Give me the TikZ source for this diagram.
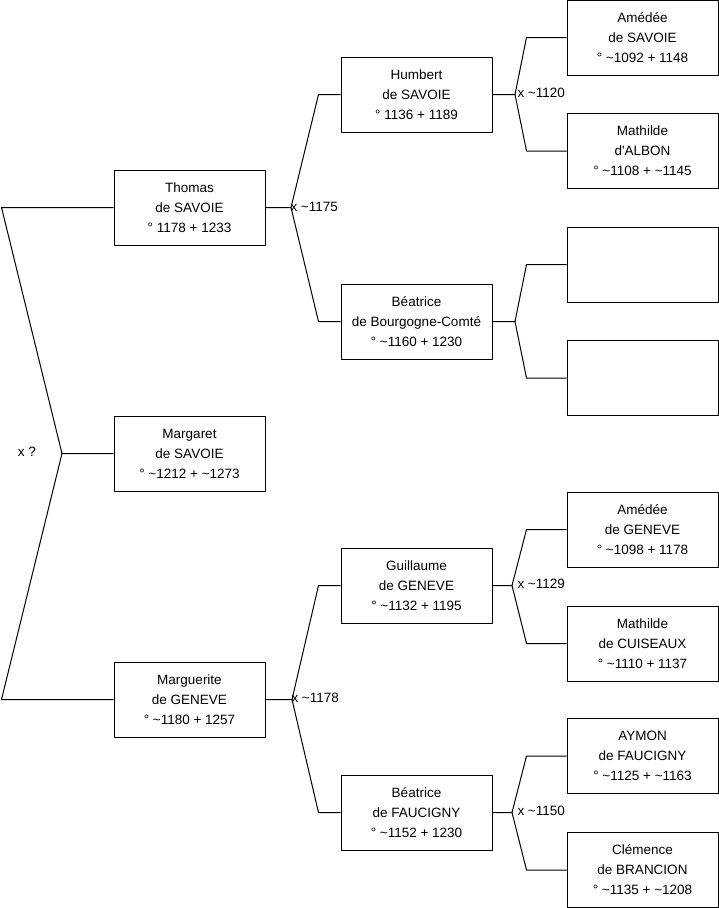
\documentclass[tikz,border=0pt]{standalone}
\usepackage{fontspec}
\setmainfont{Liberation Sans}
\usetikzlibrary{positioning}

\def\ca{\textasciitilde}

\begin{document}
\begin{tikzpicture}[x=1pt, y=-1pt, line width=1pt, line join=round,
    person/.style={draw, minimum width=151pt, minimum height=75pt, inner sep=0pt,
        align=center, font=\fontsize{13.5}{20}\selectfont},
    union/.style={anchor=west, inner sep=0pt, font=\fontsize{13.5}{16}\selectfont}]
% Ascending tree of Margaret de Savoie
\def\xa{189.5}
\def\xb{416.5}
\def\xc{642.5}
\useasboundingbox (0,0) rectangle (719,908);

% Generation 0 and 1
\node[person] (thomas)     at (\xa,207.5) {Thomas\\de SAVOIE\\° 1178 + 1233};
\node[person] (margaret)   at (\xa,453.5) {Margaret\\de SAVOIE\\° \ca1212 + \ca1273};
\node[person] (marguerite) at (\xa,699.5) {Marguerite\\de GENEVE\\° \ca1180 + 1257};

% Generation 2
\node[person] (humbert)   at (\xb,94.5)  {Humbert\\de SAVOIE\\° 1136 + 1189};
\node[person] (beatriceb) at (\xb,321.5) {Béatrice\\de Bourgogne-Comté\\° \ca1160 + 1230};
\node[person] (guillaume) at (\xb,585.5) {Guillaume\\de GENEVE\\° \ca1132 + 1195};
\node[person] (beatricef) at (\xb,812.5) {Béatrice\\de FAUCIGNY\\° \ca1152 + 1230};

% Generation 3
\node[person] (amedees)   at (\xc,37.5)  {Amédée\\de SAVOIE\\° \ca1092 + 1148};
\node[person] (mathildea) at (\xc,151)   {Mathilde\\d\textquotesingle ALBON\\° \ca1108 + \ca1145};
\node[person] (blanka)    at (\xc,264.5) {};
\node[person] (blankb)    at (\xc,378)   {};
\node[person] (amedeeg)   at (\xc,529.5) {Amédée\\de GENEVE\\° \ca1098 + 1178};
\node[person] (mathildec) at (\xc,643.5) {Mathilde\\de CUISEAUX\\° \ca1110 + 1137};
\node[person] (aymon)     at (\xc,756)   {AYMON\\de FAUCIGNY\\° \ca1125 + \ca1163};
\node[person] (clemence)  at (\xc,870)   {Clémence\\de BRANCION\\° \ca1135 + \ca1208};

% Unions
\coordinate (j0) at (62,453.5);
\coordinate (j1) at (291,207.5);
\coordinate (j2) at (292,699.5);
\coordinate (j3) at (515,94.5);
\coordinate (j4) at (515,321.5);
\coordinate (j5) at (512,585.5);
\coordinate (j6) at (512,812.5);

\draw (margaret.west) -- (j0) -- ([xshift=-112pt]thomas.west) -- (thomas.west);
\draw (j0) -- ([xshift=-112pt]marguerite.west) -- (marguerite.west);

\foreach \pa/\j/\ua/\ub/\k in {thomas/j1/humbert/beatriceb/22,
                               marguerite/j2/guillaume/beatricef/22,
                               humbert/j3/amedees/mathildea/40,
                               beatriceb/j4/blanka/blankb/40,
                               guillaume/j5/amedeeg/mathildec/40,
                               beatricef/j6/aymon/clemence/40} {
    \draw (\pa.east) -- (\j) -- ([xshift=-\k pt]\ua.west) -- (\ua.west);
    \draw (\j) -- ([xshift=-\k pt]\ub.west) -- (\ub.west);
}

% Marriage dates
\node[anchor=center, inner sep=0pt, font=\fontsize{13.5}{16}\selectfont] (u0) at (27,452) {x ?};
\node[union] (u1) at ([xshift=-1pt,yshift=1pt]j1) {x \ca1175};
\node[union] (u2) at ([xshift=-1pt,yshift=2pt]j2) {x \ca1178};
\node[union] (u3) at ([xshift=2pt,yshift=2pt]j3) {x \ca1120};
\node[union] (u5) at ([xshift=5pt,yshift=2pt]j5) {x \ca1129};
\node[union] (u6) at ([xshift=5pt,yshift=2pt]j6) {x \ca1150};

\end{tikzpicture}
\end{document}
